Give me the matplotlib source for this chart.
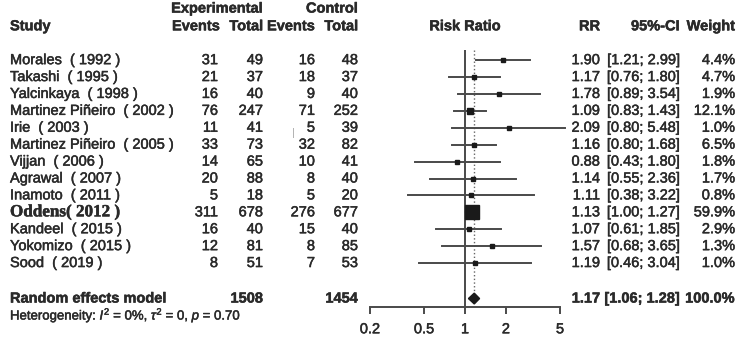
import matplotlib.pyplot as plt
import matplotlib.transforms as mtransforms
import matplotlib.patheffects as pe
import numpy as np

plt.rcParams['font.family'] = ['Liberation Sans', 'DejaVu Sans']
plt.rcParams['mathtext.fontset'] = 'custom'
plt.rcParams['mathtext.rm'] = 'Liberation Sans'
plt.rcParams['mathtext.it'] = 'Liberation Sans:italic'

studies = ['Morales  ( 1992 )', 'Takashi  ( 1995 )', 'Yalcinkaya  ( 1998 )',
           'Martinez Piñeiro  ( 2002 )', 'Irie  ( 2003 )', 'Martinez Piñeiro  ( 2005 )',
           'Vijjan  ( 2006 )', 'Agrawal  ( 2007 )', 'Inamoto  ( 2011 )', 'Oddens( 2012 )',
           'Kandeel  ( 2015 )', 'Yokomizo  ( 2015 )', 'Sood  ( 2019 )']
exp_events = [31, 21, 16, 76, 11, 33, 14, 20, 5, 311, 16, 12, 8]
exp_total = [49, 37, 40, 247, 41, 73, 65, 88, 18, 678, 40, 81, 51]
ctl_events = [16, 18, 9, 71, 5, 32, 10, 8, 5, 276, 15, 8, 7]
ctl_total = [48, 37, 40, 252, 39, 82, 41, 40, 20, 677, 40, 85, 53]
rr = [1.90, 1.17, 1.78, 1.09, 2.09, 1.16, 0.88, 1.14, 1.11, 1.13, 1.07, 1.57, 1.19]
ci_lo = [1.21, 0.76, 0.89, 0.83, 0.80, 0.80, 0.43, 0.55, 0.38, 1.00, 0.61, 0.68, 0.46]
ci_hi = [2.99, 1.80, 3.54, 1.43, 5.48, 1.68, 1.80, 2.36, 3.22, 1.27, 1.85, 3.65, 3.04]
weight = [4.4, 4.7, 1.9, 12.1, 1.0, 6.5, 1.8, 1.7, 0.8, 59.9, 2.9, 1.3, 1.0]

pooled_rr, pooled_lo, pooled_hi = 1.17, 1.06, 1.28
exp_sum, ctl_sum = 1508, 1454
ticks = [0.2, 0.5, 1, 2, 5]
tick_labels = ['0.2', '0.5', '1', '2', '5']

W, H = 742, 342
fig = plt.figure(figsize=(W / 100, H / 100), dpi=100)
# forest panel: x 0.2..5 spans px 370..560, y spans px 50..307
ax = fig.add_axes([370 / W, (H - 307) / H, 190 / W, 257 / H])
ax.set_xscale('log')
ax.set_xlim(0.2, 5)
ax.set_ylim(14.6, -0.6)

line_c = '#4a4a4a'
txt_c = '#2a2a2a'
thick = [pe.withStroke(linewidth=0.35, foreground=txt_c)]
rows = np.arange(len(studies))
y_sum = 14.1

ax.axvline(1, color=line_c, lw=1.4, zorder=1)
ax.plot([pooled_rr, pooled_rr], [-0.6, y_sum - 0.35], ls=':', color='#666666', lw=1.0, zorder=1)

for i in rows:
    ax.plot([ci_lo[i], ci_hi[i]], [i, i], color=line_c, lw=1.4, clip_on=False, zorder=2)
    ms = max(3.2, 9.6 * np.sqrt(weight[i] / max(weight)))
    ax.plot(rr[i], i, marker='s', ms=ms, color='#1a1a1a', mec='#1a1a1a', zorder=3)

ax.fill([pooled_lo, pooled_rr, pooled_hi, pooled_rr], [y_sum, y_sum - 0.32, y_sum, y_sum + 0.32],
        color='#1a1a1a', zorder=3)

for s in ['top', 'right', 'left']:
    ax.spines[s].set_visible(False)
ax.spines['bottom'].set_bounds(0.2, 5)
ax.spines['bottom'].set_color(line_c)
ax.spines['bottom'].set_linewidth(1.4)
ax.set_yticks([])
ax.set_xticks(ticks)
ax.set_xticklabels(tick_labels)
ax.xaxis.set_minor_locator(plt.NullLocator())
ax.tick_params(axis='x', direction='out', length=5, width=1.4, color=line_c,
               labelsize=10.5, labelcolor=txt_c, pad=6)
for lab in ax.get_xticklabels():
    lab.set_path_effects(thick)
ax.patch.set_visible(False)

tr = mtransforms.blended_transform_factory(fig.transFigure, ax.transData)


def put(px, y, s, ha='left', **kw):
    kw.setdefault('fontsize', 10.5)
    kw.setdefault('color', txt_c)
    ax.text(px / W, y, s, ha=ha, va='center', transform=tr, clip_on=False,
            path_effects=thick, **kw)


# headers
y_top, y_head = -3.05, -2.0
put(263, y_top, 'Experimental', ha='right', fontweight='bold')
put(358, y_top, 'Control', ha='right', fontweight='bold')
put(10, y_head, 'Study', fontweight='bold')
put(220, y_head, 'Events', ha='right', fontweight='bold')
put(263, y_head, 'Total', ha='right', fontweight='bold')
put(315, y_head, 'Events', ha='right', fontweight='bold')
put(358, y_head, 'Total', ha='right', fontweight='bold')
put(465, y_head, 'Risk Ratio', ha='center', fontweight='bold')
put(600, y_head, 'RR', ha='right', fontweight='bold')
put(680, y_head, '95%-CI', ha='right', fontweight='bold')
put(735, y_head, 'Weight', ha='right', fontweight='bold')

for i in rows:
    if studies[i].startswith('Oddens'):
        put(10, i, studies[i], family=['Liberation Serif'], fontsize=12.3, fontweight='bold')
    else:
        put(10, i, studies[i])
    put(218, i, str(exp_events[i]), ha='right')
    put(263, i, str(exp_total[i]), ha='right')
    put(315, i, str(ctl_events[i]), ha='right')
    put(358, i, str(ctl_total[i]), ha='right')
    put(600, i, f'{rr[i]:.2f}', ha='right')
    put(680, i, f'[{ci_lo[i]:.2f}; {ci_hi[i]:.2f}]', ha='right')
    put(735, i, f'{weight[i]:.1f}%', ha='right')

# small stray scan mark next to Irie's control events
ax.text(293 / W, 4.3, '|', ha='center', va='center', transform=tr, fontsize=8, color='#aaaaaa')

put(10, y_sum, 'Random effects model', fontweight='bold')
put(263, y_sum, str(exp_sum), ha='right', fontweight='bold')
put(358, y_sum, str(ctl_sum), ha='right', fontweight='bold')
put(600, y_sum, f'{pooled_rr:.2f}', ha='right', fontweight='bold')
put(680, y_sum, f'[{pooled_lo:.2f}; {pooled_hi:.2f}]', ha='right', fontweight='bold')
put(735, y_sum, '100.0%', ha='right', fontweight='bold')
put(10, y_sum + 1.0, r'Heterogeneity: $I^2$ = 0%, $\tau^2$ = 0, $p$ = 0.70', fontsize=9.5)

fig.savefig('out.png', dpi=100)
